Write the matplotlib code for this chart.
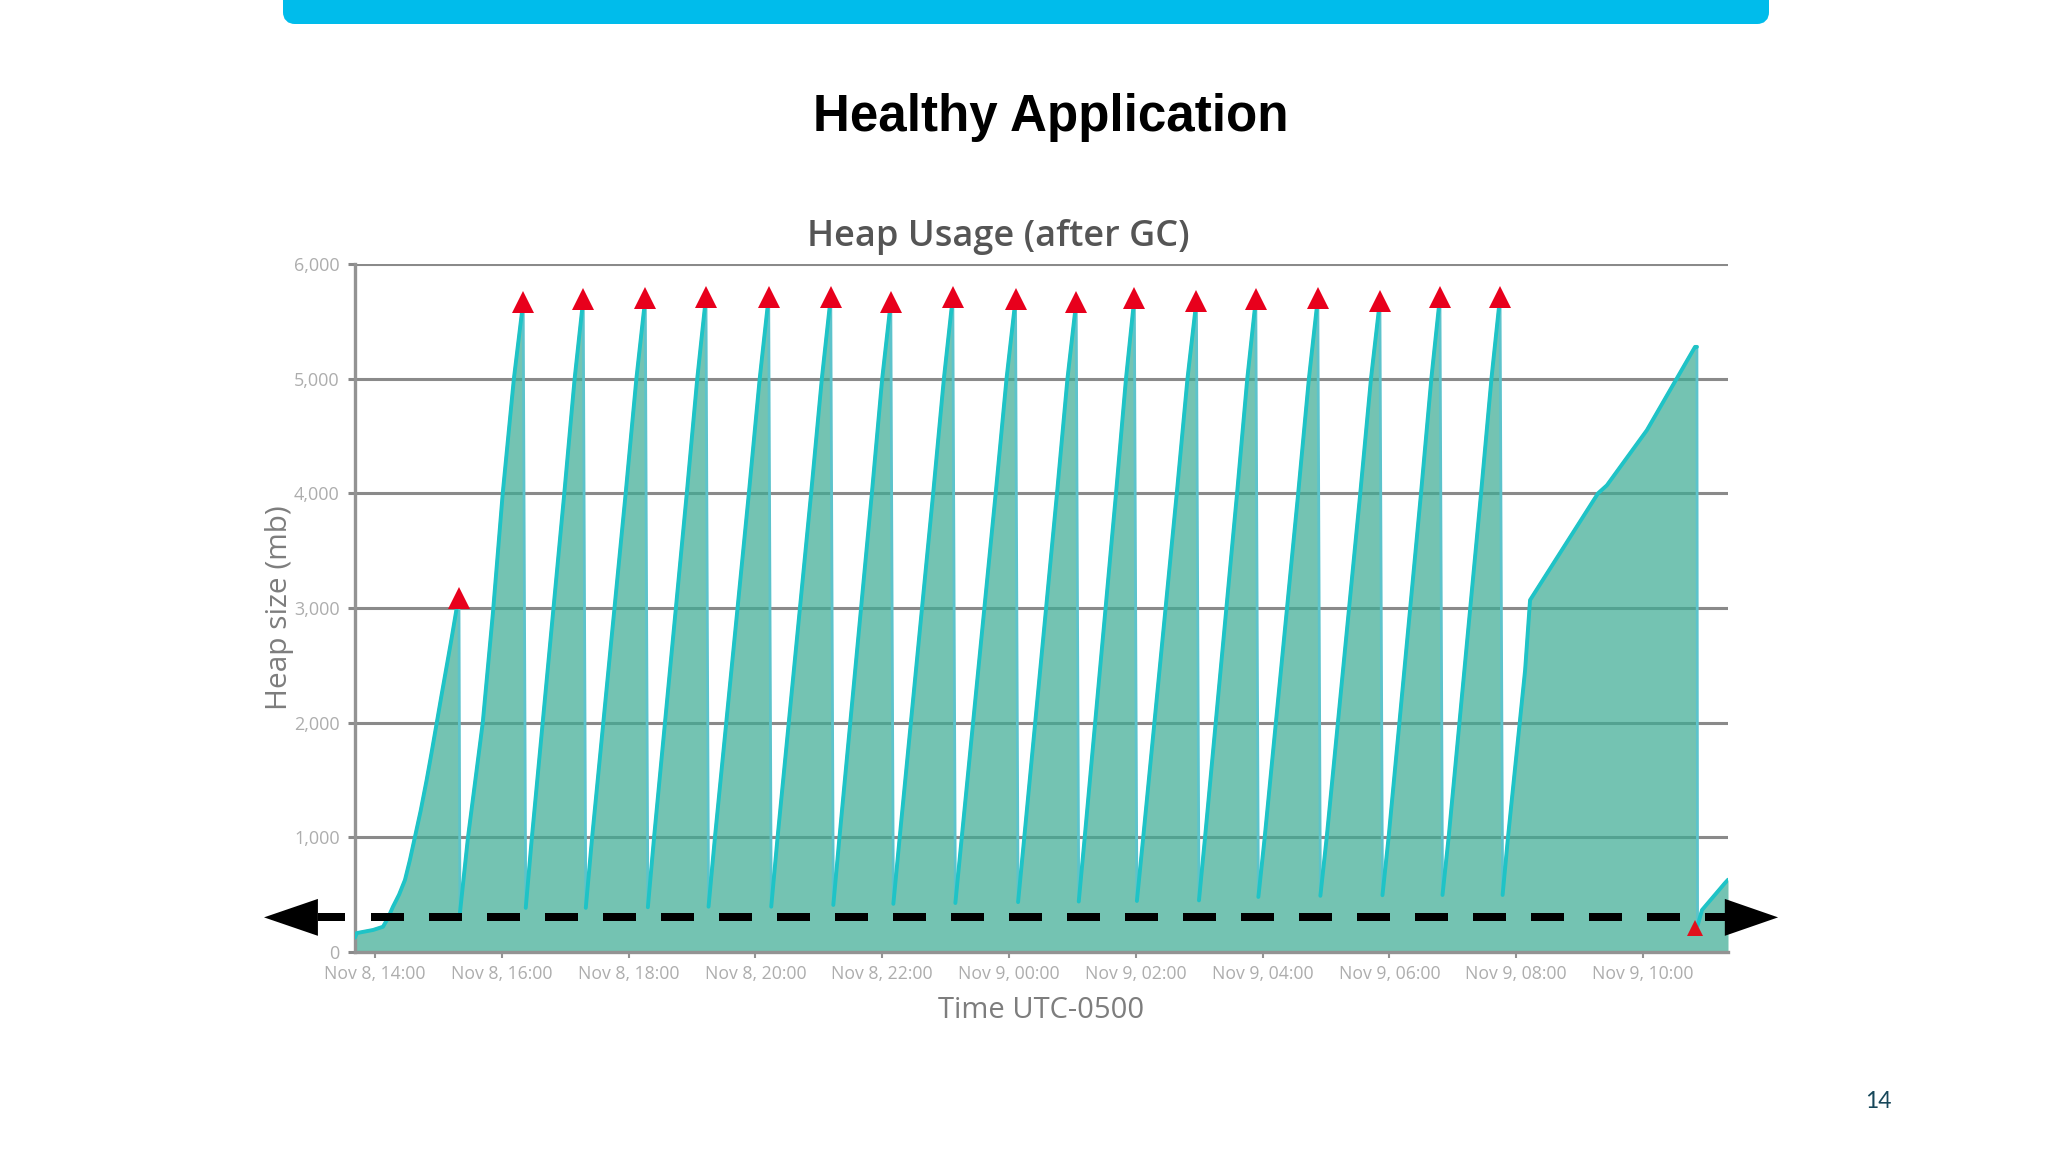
import matplotlib
matplotlib.use("Agg")
import matplotlib.pyplot as plt
from matplotlib.patches import FancyBboxPatch

# Hours after Nov 8 14:00, with the heap size in mb at each of those times
first_rise_h = [-0.315, -0.288, -0.03, 0.126, 0.2, 0.284, 0.38, 0.473, 0.55, 0.631, 0.72, 0.815,
                0.89, 0.973, 1.05, 1.13, 1.21, 1.289, 1.325]
first_rise_mb = [125, 165, 192, 220, 290, 395, 500, 628, 800, 1005, 1230, 1500,
                 1730, 1996, 2240, 2488, 2740, 3000, 3086]

sawtooth_h = [
    1.34, 1.467, 1.70, 1.86, 2.015, 2.191, 2.338,
    2.378, 2.475, 2.986, 3.149, 3.285,
    3.325, 3.425, 3.954, 4.123, 4.264,
    4.304, 4.402, 4.918, 5.083, 5.221,
    5.261, 5.362, 5.897, 6.068, 6.21,
    6.25, 6.35, 6.879, 7.048, 7.189,
    7.229, 7.326, 7.837, 8.0, 8.136,
    8.176, 8.276, 8.804, 8.973, 9.114,
    9.154, 9.255, 9.79, 9.961, 10.103,
    10.143, 10.241, 10.757, 10.922, 11.06,
    11.10, 11.194, 11.688, 11.845, 11.977,
    12.017, 12.117, 12.646, 12.815, 12.956,
    12.996, 13.092, 13.597, 13.758, 13.893,
    13.933, 14.033, 14.561, 14.73, 14.871,
    14.911, 15.011, 15.54, 15.709, 15.85,
    15.89, 15.987, 16.498, 16.661, 16.797,
    16.837, 16.934, 17.445, 17.609, 17.745,
]
sawtooth_mb = [
    340, 1000, 2000, 2955, 4000, 5000, 5670,
    385, 1000, 4000, 5000, 5693,
    385, 1000, 4000, 5000, 5704,
    390, 1000, 4000, 5000, 5715,
    395, 1000, 4000, 5000, 5715,
    395, 1000, 4000, 5000, 5715,
    410, 1000, 4000, 5000, 5670,
    420, 1000, 4000, 5000, 5715,
    427, 1000, 4000, 5000, 5693,
    435, 1000, 4000, 5000, 5670,
    440, 1000, 4000, 5000, 5704,
    445, 1000, 4000, 5000, 5680,
    450, 1000, 4000, 5000, 5693,
    480, 1000, 4000, 5000, 5704,
    490, 1000, 4000, 5000, 5680,
    495, 1000, 4000, 5000, 5715,
    497, 1000, 4000, 5000, 5715,
]
last_rise_h = [17.785, 17.87, 18.14, 18.218, 19.29, 19.43, 20.06, 20.82, 20.85]
last_rise_mb = [497, 1000, 2458, 3069, 4000, 4070, 4550, 5277, 5277]
tail_h = [20.86, 20.93, 21.29, 21.34]
tail_mb = [230, 366, 600, 630]

gc_h = [1.325, 2.338, 3.285, 4.264, 5.221, 6.21, 7.189, 8.136, 9.114, 10.103,
        11.06, 11.977, 12.956, 13.893, 14.871, 15.85, 16.797, 17.745]
gc_mb = [3086, 5670, 5693, 5704, 5715, 5715, 5715, 5670, 5715, 5693,
         5670, 5704, 5680, 5693, 5704, 5680, 5715, 5715]
last_gc_h = [20.82]
last_gc_mb = [205]

y_ticks = [0, 1000, 2000, 3000, 4000, 5000, 6000]
y_labels = ["0", "1,000", "2,000", "3,000", "4,000", "5,000", "6,000"]
x_ticks = [0, 2, 4, 6, 8, 10, 12, 14, 16, 18, 20]
x_labels = ["Nov 8, 14:00", "Nov 8, 16:00", "Nov 8, 18:00", "Nov 8, 20:00",
            "Nov 8, 22:00", "Nov 9, 00:00", "Nov 9, 02:00", "Nov 9, 04:00",
            "Nov 9, 06:00", "Nov 9, 08:00", "Nov 9, 10:00"]
threshold_mb = 302

W, H = 2048, 1152
plt.rcParams["font.family"] = ["Open Sans", "DejaVu Sans"]
fig = plt.figure(figsize=(W / 100, H / 100), dpi=100, facecolor="white")

page = fig.add_axes([0, 0, 1, 1], zorder=0)
page.set_xlim(0, W)
page.set_ylim(H, 0)
page.axis("off")
page.add_patch(FancyBboxPatch((289, -20), 1474, 38,
                              boxstyle="round,pad=0,rounding_size=6",
                              mutation_aspect=1, fc="#00BCEB", ec="#00BCEB", lw=6 * 0.72 * 2))
page.text(1051, 118, "Healthy Application", family="Liberation Sans", weight="bold",
          fontsize=36.8, color="black", ha="center", va="center")
page.text(998, 237, "Heap Usage (after GC)", weight=600, fontsize=26,
          color="#555555", ha="center", va="center")
page.text(279, 608, "Heap size (mb)", fontsize=21.5, color="#7d7d7d",
          rotation=90, ha="center", va="center")
page.text(1041, 1011, "Time UTC-0500", fontsize=21, color="#7d7d7d",
          ha="center", va="center")
page.text(1878, 1101, "14", family="Lato", fontsize=16.5, color="#17475A",
          ha="center", va="center")

ax = fig.add_axes([355 / W, 1 - 952 / H, 1373 / W, 688 / H], zorder=1)
ax.patch.set_alpha(0)
ax.set_xlim(-0.315, 21.34)
ax.set_ylim(0, 6000)

grid_c = "#8a8a8a"
ax.set_axisbelow(True)
ax.grid(axis="y", color=grid_c, lw=2.2, zorder=1)
for s in ["top", "right"]:
    ax.spines[s].set_visible(False)
for s in ["left", "bottom"]:
    ax.spines[s].set_color("#939393")
    ax.spines[s].set_linewidth(2.4)
ax.set_yticks(y_ticks, y_labels)
ax.set_xticks(x_ticks, x_labels)
ax.tick_params(axis="y", length=5, width=2.2, color=grid_c, labelsize=13,
               labelcolor="#adadad", pad=6)
ax.tick_params(axis="x", length=4, width=1.5, color="#939393", labelsize=12.7,
               labelcolor="#adadad", pad=5.5)

heap_h = first_rise_h + sawtooth_h + last_rise_h + tail_h
heap_mb = first_rise_mb + sawtooth_mb + last_rise_mb + tail_mb
ax.fill_between(heap_h, heap_mb, 0, color="#3EAC95", alpha=0.72, lw=0, zorder=2)

# Whole trace in a pale tone (this is what the falls show), rises redrawn stronger
ax.plot(heap_h, heap_mb, color="#5CC3CB", lw=2.0, solid_joinstyle="miter", zorder=3)
rise_h, rise_mb = [], []
for i, (t, v) in enumerate(zip(heap_h, heap_mb)):
    if i and v < heap_mb[i - 1]:
        rise_h.append(float("nan"))
        rise_mb.append(float("nan"))
    rise_h.append(t)
    rise_mb.append(v)
ax.plot(rise_h, rise_mb, color="#1FC3C6", lw=2.8, solid_joinstyle="round",
        solid_capstyle="round", zorder=3)

ax.plot(gc_h, gc_mb, ls="none", marker="^", ms=15.5, color="#E8001C", mew=0, zorder=4)
ax.plot(last_gc_h, last_gc_mb, ls="none", marker="^", ms=12, color="#E0101C", mew=0, zorder=4)

# Overlaid threshold arrow
ax.plot([-0.063, 21.29], [threshold_mb, threshold_mb], color="black", lw=5.76,
        ls=(0, (33 / 8, 25 / 8)), dash_capstyle="butt", clip_on=False, zorder=5)
ax.plot([-0.9, -0.473], [threshold_mb, threshold_mb], color="black", lw=5.76,
        solid_capstyle="butt", clip_on=False, zorder=5)
ax.fill([-1.75, -0.9, -0.9], [threshold_mb, threshold_mb + 161, threshold_mb - 161],
        color="black", lw=0, clip_on=False, zorder=5)
ax.fill([22.13, 21.29, 21.29], [threshold_mb, threshold_mb + 161, threshold_mb - 161],
        color="black", lw=0, clip_on=False, zorder=5)

fig.savefig("out.png", dpi=100)
